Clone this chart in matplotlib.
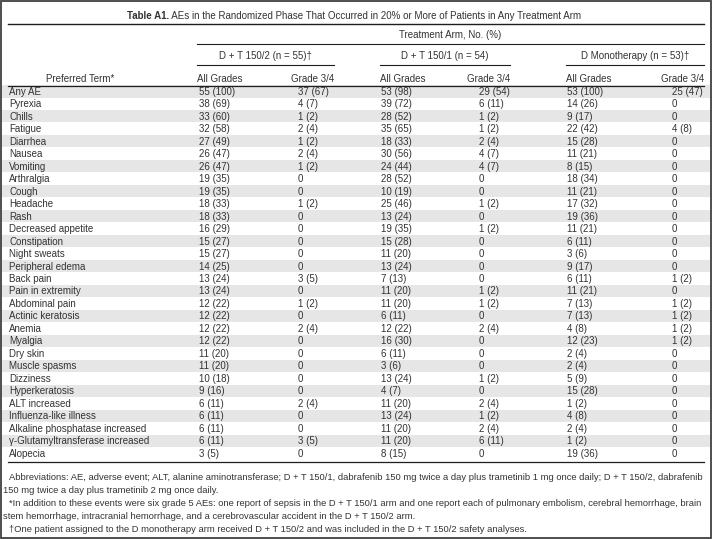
import matplotlib
matplotlib.use("Agg")
import matplotlib.pyplot as plt
from matplotlib.patches import Rectangle

plt.rcParams['font.family'] = ['Liberation Sans', 'DejaVu Sans']

# ---------------- data ----------------
title_bold = "Table A1."
title_rest = " AEs in the Randomized Phase That Occurred in 20% or More of Patients in Any Treatment Arm"
spanner = "Treatment Arm, No. (%)"
groups = ["D + T 150/2 (n = 55)\u2020", "D + T 150/1 (n = 54)", "D Monotherapy (n = 53)\u2020"]
subheaders = ["All Grades", "Grade 3/4"]
term_header = "Preferred Term*"

terms = ["Any AE", "Pyrexia", "Chills", "Fatigue", "Diarrhea", "Nausea", "Vomiting",
         "Arthralgia", "Cough", "Headache", "Rash", "Decreased appetite", "Constipation",
         "Night sweats", "Peripheral edema", "Back pain", "Pain in extremity",
         "Abdominal pain", "Actinic keratosis", "Anemia", "Myalgia", "Dry skin",
         "Muscle spasms", "Dizziness", "Hyperkeratosis", "ALT increased",
         "Influenza-like illness", "Alkaline phosphatase increased",
         "\u03b3-Glutamyltransferase increased", "Alopecia"]

dt2_all = ["55 (100)", "38 (69)", "33 (60)", "32 (58)", "27 (49)", "26 (47)", "26 (47)",
           "19 (35)", "19 (35)", "18 (33)", "18 (33)", "16 (29)", "15 (27)", "15 (27)",
           "14 (25)", "13 (24)", "13 (24)", "12 (22)", "12 (22)", "12 (22)", "12 (22)",
           "11 (20)", "11 (20)", "10 (18)", "9 (16)", "6 (11)", "6 (11)", "6 (11)",
           "6 (11)", "3 (5)"]
dt2_g34 = ["37 (67)", "4 (7)", "1 (2)", "2 (4)", "1 (2)", "2 (4)", "1 (2)", "0", "0",
           "1 (2)", "0", "0", "0", "0", "0", "3 (5)", "0", "1 (2)", "0", "2 (4)", "0",
           "0", "0", "0", "0", "2 (4)", "0", "0", "3 (5)", "0"]
dt1_all = ["53 (98)", "39 (72)", "28 (52)", "35 (65)", "18 (33)", "30 (56)", "24 (44)",
           "28 (52)", "10 (19)", "25 (46)", "13 (24)", "19 (35)", "15 (28)", "11 (20)",
           "13 (24)", "7 (13)", "11 (20)", "11 (20)", "6 (11)", "12 (22)", "16 (30)",
           "6 (11)", "3 (6)", "13 (24)", "4 (7)", "11 (20)", "13 (24)", "11 (20)",
           "11 (20)", "8 (15)"]
dt1_g34 = ["29 (54)", "6 (11)", "1 (2)", "1 (2)", "2 (4)", "4 (7)", "4 (7)", "0", "0",
           "1 (2)", "0", "1 (2)", "0", "0", "0", "0", "1 (2)", "1 (2)", "0", "2 (4)", "0",
           "0", "0", "1 (2)", "0", "2 (4)", "1 (2)", "2 (4)", "6 (11)", "0"]
d_all = ["53 (100)", "14 (26)", "9 (17)", "22 (42)", "15 (28)", "11 (21)", "8 (15)",
         "18 (34)", "11 (21)", "17 (32)", "19 (36)", "11 (21)", "6 (11)", "3 (6)",
         "9 (17)", "6 (11)", "11 (21)", "7 (13)", "7 (13)", "4 (8)", "12 (23)", "2 (4)",
         "2 (4)", "5 (9)", "15 (28)", "1 (2)", "4 (8)", "2 (4)", "1 (2)", "19 (36)"]
d_g34 = ["25 (47)", "0", "0", "4 (8)", "0", "0", "0", "0", "0", "0", "0", "0", "0", "0",
         "0", "1 (2)", "0", "1 (2)", "1 (2)", "1 (2)", "1 (2)", "0", "0", "0", "0", "0",
         "0", "0", "0", "0"]

footnotes = [
    ("Abbreviations: AE, adverse event; ALT, alanine aminotransferase; D + T 150/1, dabrafenib 150 mg twice a day plus trametinib 1 mg once daily; D + T 150/2, dabrafenib", True),
    ("150 mg twice a day plus trametinib 2 mg once daily.", False),
    ("*In addition to these events were six grade 5 AEs: one report of sepsis in the D + T 150/1 arm and one report each of pulmonary embolism, cerebral hemorrhage, brain", True),
    ("stem hemorrhage, intracranial hemorrhage, and a cerebrovascular accident in the D + T 150/2 arm.", False),
    ("\u2020One patient assigned to the D monotherapy arm received D + T 150/2 and was included in the D + T 150/2 safety analyses.", True),
]

# ---------------- layout ----------------
W, H = 712, 539
fig = plt.figure(figsize=(W / 100, H / 100), dpi=100)
ax = fig.add_axes([0, 0, 1, 1])
ax.set_xlim(0, W)
ax.set_ylim(H, 0)
ax.axis('off')

TXT = '#333333'
FS = 7.0
FS_FOOT = 6.75
SHADE = '#e6e6e6'
LINE = '#1e1e1e'
BL = 3.5  # baseline offset from visual centre (px)

L, R = 8, 704
grp_spans = [(197, 334), (380, 510), (566, 704)]
col_x = [199, 298, 381, 479, 567, 672]
cols = [dt2_all, dt2_g34, dt1_all, dt1_g34, d_all, d_g34]

y_title = 15.5
y_rule1 = 24
y_span = 35
y_rule2 = 44
y_grp = 55.5
y_rule3 = 64.5
y_sub = 78.5
y_rule4 = 85.5
y_row0 = 91.3
row_h = 12.48
n = len(terms)
y_bottom = y_row0 + (n - 1) * row_h + 9


def put(x, y, s, ha='left', fs=FS, **kw):
    return ax.text(x, y + BL, s, fontsize=fs, color=TXT, ha=ha, va='baseline', **kw)


# border
ax.add_patch(Rectangle((0.8, 0.8), W - 1.6, H - 1.6, fill=False, ec='#404040', lw=1.3))

# title
tb = put(0, y_title, title_bold, fontweight='bold')
tr = put(0, y_title, title_rest)
fig.canvas.draw()
rend = fig.canvas.get_renderer()
wb = tb.get_window_extent(rend).width
wr = tr.get_window_extent(rend).width
x0 = 354 - (wb + wr) / 2
tb.set_x(x0)
tr.set_x(x0 + wb)

# header rules and labels
ax.plot([L, R], [y_rule1, y_rule1], color=LINE, lw=1.0)
put((grp_spans[0][0] + R) / 2, y_span, spanner, ha='center')
ax.plot([grp_spans[0][0], R], [y_rule2, y_rule2], color=LINE, lw=0.8)
for (a, b), g in zip(grp_spans, groups):
    put((a + b) / 2, y_grp, g, ha='center')
    ax.plot([a, b], [y_rule3, y_rule3], color=LINE, lw=0.8)
    put(a, y_sub, subheaders[0])
    put(b, y_sub, subheaders[1], ha='right')
put(80, y_sub, term_header, ha='center')
ax.plot([L, R], [y_rule4, y_rule4], color=LINE, lw=0.9)

# body rows
for i, t in enumerate(terms):
    y = y_row0 + i * row_h
    if i % 2 == 0:
        ax.add_patch(Rectangle((2, y - row_h / 2), W - 4, row_h, fc=SHADE, ec='none', zorder=0))
    put(9, y, t)
    for x, c in zip(col_x, cols):
        put(x, y, c[i])

ax.plot([L, R], [y_bottom, y_bottom], color=LINE, lw=0.9)

# footnotes
y_f = [477, 489.5, 503, 515.5, 528.5]
for (txt, first), y in zip(footnotes, y_f):
    put(9 if first else 3, y, txt, fs=FS_FOOT)

fig.savefig('out.png', dpi=100)
